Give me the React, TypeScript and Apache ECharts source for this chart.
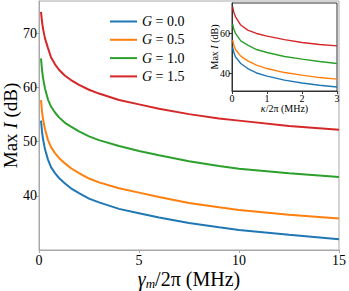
import React, { useEffect, useRef } from 'react';
import * as echarts from 'echarts';

// main plot: x = gamma_m / 2pi (MHz)
const gammaX = [0.1, 0.15, 0.2, 0.3, 0.45, 0.6, 0.8, 1.0, 1.3, 1.6, 2.0, 2.5, 3.0, 4.0, 5.0, 6.0, 7.5, 9.0, 10, 12.5, 15];
const mainG00 = [53.9, 51.9, 50.5, 48.6, 46.7, 45.3, 44.2, 43.3, 42.3, 41.4, 40.5, 39.5, 38.8, 37.6, 36.8, 36.0, 35.0, 34.2, 33.7, 32.8, 32.0];
const mainG05 = [57.7, 55.6, 54.2, 52.3, 50.3, 49.0, 47.9, 47.0, 46.0, 45.1, 44.2, 43.2, 42.5, 41.4, 40.6, 39.8, 38.7, 37.9, 37.4, 36.5, 35.8];
const mainG10 = [65.4, 63.3, 61.8, 59.8, 57.8, 56.5, 55.4, 54.5, 53.5, 52.8, 51.9, 51.0, 50.3, 49.2, 48.3, 47.5, 46.4, 45.5, 45.0, 44.2, 43.5];
const mainG15 = [74.0, 72.2, 70.9, 69.1, 67.3, 65.6, 64.3, 63.3, 62.2, 61.4, 60.5, 59.6, 58.9, 57.7, 56.9, 56.1, 55.1, 54.3, 53.9, 52.9, 52.2];

// inset: x = kappa / 2pi (MHz)
const kappaX = [0.02, 0.05, 0.1, 0.25, 0.45, 0.7, 1.0, 1.5, 2.0, 2.5, 3.0];
const insetG00 = [53.0, 50.6, 48.3, 45.0, 42.5, 40.3, 38.7, 36.7, 35.3, 34.2, 33.3];
const insetG05 = [56.7, 54.3, 52.0, 48.7, 46.3, 44.2, 42.5, 40.5, 39.2, 38.0, 37.2];
const insetG10 = [64.7, 62.2, 60.0, 56.3, 54.2, 52.0, 50.5, 48.5, 47.2, 46.0, 45.0];
const insetG15 = [73.3, 70.6, 68.3, 64.2, 61.7, 60.0, 58.7, 56.9, 55.5, 54.5, 53.8];

const gLabels = ['0.0', '0.5', '1.0', '1.5'];
const mainTicksY = [40, 50, 60, 70];
const mainTicksX = [0, 5, 10, 15];
const insetTicksY = [40, 60];
const insetTicksX = [0, 1, 2, 3];

const colors = ['#1f77b4', '#ff7f0e', '#2ca02c', '#d62728'];

export default function App() {
  const ref = useRef<HTMLDivElement>(null);
  useEffect(() => {
    const chart = echarts.init(ref.current!, null, { renderer: 'svg' });
    const font = "'Liberation Serif', 'Times New Roman', serif";
    const mainData = [mainG00, mainG05, mainG10, mainG15];
    const insetData = [insetG00, insetG05, insetG10, insetG15];
    const names = gLabels.map((g) => 'G = ' + g);
    const grey = '#a9a9a9';
    const dark = '#333333';

    const mainSeries = mainData.map((arr, i) => ({
      name: names[i],
      type: 'line',
      xAxisIndex: 0,
      yAxisIndex: 0,
      data: arr.map((v, j) => [gammaX[j], v]),
      showSymbol: false,
      smooth: false,
      lineStyle: { color: colors[i], width: 2 },
      itemStyle: { color: colors[i] },
      z: 3,
    }));
    const insetSeries = insetData.map((arr, i) => ({
      name: 'inset ' + names[i],
      type: 'line',
      xAxisIndex: 1,
      yAxisIndex: 1,
      data: arr.map((v, j) => [kappaX[j], v]),
      showSymbol: false,
      smooth: false,
      lineStyle: { color: colors[i], width: 1.4 },
      itemStyle: { color: colors[i] },
      z: 12,
    }));

    const option: any = {
      animation: false,
      backgroundColor: '#ffffff',
      grid: [
        { left: 39, top: 1, right: 10, bottom: 41, show: true, borderColor: grey, borderWidth: 1, backgroundColor: 'transparent', containLabel: false, outerBoundsMode: 'none' },
        { left: 232, top: 3, width: 105, height: 88, show: true, borderColor: dark, borderWidth: 1, backgroundColor: '#ffffff', z: 10, containLabel: false, outerBoundsMode: 'none' },
      ],
      legend: {
        data: names,
        orient: 'vertical',
        left: 105,
        top: 8.5,
        itemWidth: 27,
        itemHeight: 2,
        itemGap: 2.3,
        itemTextGap: 8,
        icon: 'rect',
        formatter: (name: string) => '{i|G}{n| = ' + name.split('= ')[1] + '}',
        textStyle: {
          fontFamily: font,
          fontSize: 14,
          color: '#000',
          lineHeight: 16,
          rich: {
            i: { fontFamily: font, fontSize: 14, fontStyle: 'italic', color: '#000', lineHeight: 16 },
            n: { fontFamily: font, fontSize: 14, color: '#000', lineHeight: 16 },
          },
        },
      },
      xAxis: [
        {
          type: 'value',
          gridIndex: 0,
          min: 0,
          max: 15,
          interval: 5,
          axisLine: { lineStyle: { color: grey, width: 1 } },
          axisTick: { show: true, length: 3, lineStyle: { color: grey }, customValues: mainTicksX },
          axisLabel: { fontFamily: font, fontSize: 14, color: '#000', margin: 3, customValues: mainTicksX },
          splitLine: { show: false },
          name: '{g|γ}{s|m}{n|/2π (MHz)}',
          nameLocation: 'middle',
          nameGap: 18,
          nameMoveOverlap: false,
          nameTextStyle: {
            fontFamily: font,
            fontSize: 20,
            color: '#000',
            lineHeight: 22,
            rich: {
              g: { fontFamily: font, fontSize: 20, fontStyle: 'italic', color: '#000', lineHeight: 22 },
              s: { fontFamily: font, fontSize: 13, fontStyle: 'italic', color: '#000', lineHeight: 13, verticalAlign: 'bottom' },
              n: { fontFamily: font, fontSize: 20, color: '#000', lineHeight: 22 },
            },
          },
        },
        {
          type: 'value',
          gridIndex: 1,
          min: 0,
          max: 3,
          interval: 1,
          z: 12,
          axisLine: { lineStyle: { color: dark, width: 1 } },
          axisTick: { show: true, length: 3, lineStyle: { color: dark }, customValues: insetTicksX },
          axisLabel: { fontFamily: font, fontSize: 10, color: '#000', margin: 2, customValues: insetTicksX },
          splitLine: { show: false },
          name: '{k|κ}{n|/2π (MHz)}',
          nameLocation: 'middle',
          nameGap: 12,
          nameMoveOverlap: false,
          nameTextStyle: {
            fontFamily: font,
            fontSize: 10,
            color: '#000',
            rich: {
              k: { fontFamily: font, fontSize: 10, fontStyle: 'italic', color: '#000' },
              n: { fontFamily: font, fontSize: 10, color: '#000' },
            },
          },
        },
      ],
      yAxis: [
        {
          type: 'value',
          gridIndex: 0,
          min: 30,
          max: 76,
          interval: 10,
          axisLine: { lineStyle: { color: grey, width: 1 } },
          axisTick: { show: true, length: 3, lineStyle: { color: grey }, customValues: mainTicksY },
          axisLabel: {
            fontFamily: font,
            fontSize: 14,
            color: '#000',
            margin: 2,
            customValues: mainTicksY,
            formatter: (v: number) => (mainTicksY.indexOf(v) >= 0 ? String(v) : ''),
          },
          splitLine: { show: false },
          name: '{n|Max }{i|I}{n| (dB)}',
          nameLocation: 'middle',
          nameRotate: 90,
          nameGap: 20.5,
          nameMoveOverlap: false,
          nameTextStyle: {
            fontFamily: font,
            fontSize: 19,
            color: '#000',
            lineHeight: 16,
            rich: {
              i: { fontFamily: font, fontSize: 19, fontStyle: 'italic', color: '#000', lineHeight: 16 },
              n: { fontFamily: font, fontSize: 19, color: '#000', lineHeight: 16 },
            },
          },
        },
        {
          type: 'value',
          gridIndex: 1,
          min: 31.3,
          max: 75.2,
          splitNumber: 2,
          z: 12,
          axisLine: { lineStyle: { color: dark, width: 1 } },
          axisTick: { show: true, length: 3, lineStyle: { color: dark }, customValues: insetTicksY },
          axisLabel: {
            fontFamily: font,
            fontSize: 10,
            color: '#000',
            margin: 2,
            customValues: insetTicksY,
            formatter: (v: number) => (insetTicksY.indexOf(v) >= 0 ? String(v) : ''),
          },
          splitLine: { show: false },
          name: '{n|Max }{i|I}{n| (dB)}',
          nameLocation: 'middle',
          nameRotate: 90,
          nameGap: 13,
          nameMoveOverlap: false,
          nameTextStyle: {
            fontFamily: font,
            fontSize: 10,
            color: '#000',
            rich: {
              i: { fontFamily: font, fontSize: 10, fontStyle: 'italic', color: '#000' },
              n: { fontFamily: font, fontSize: 10, color: '#000' },
            },
          },
        },
      ],
      series: [...mainSeries, ...insetSeries],
    };
    chart.setOption(option);
    return () => chart.dispose();
  }, []);
  return <div ref={ref} style={{ position: 'absolute', left: 0, top: 0, width: 349, height: 291 }} />;
}
